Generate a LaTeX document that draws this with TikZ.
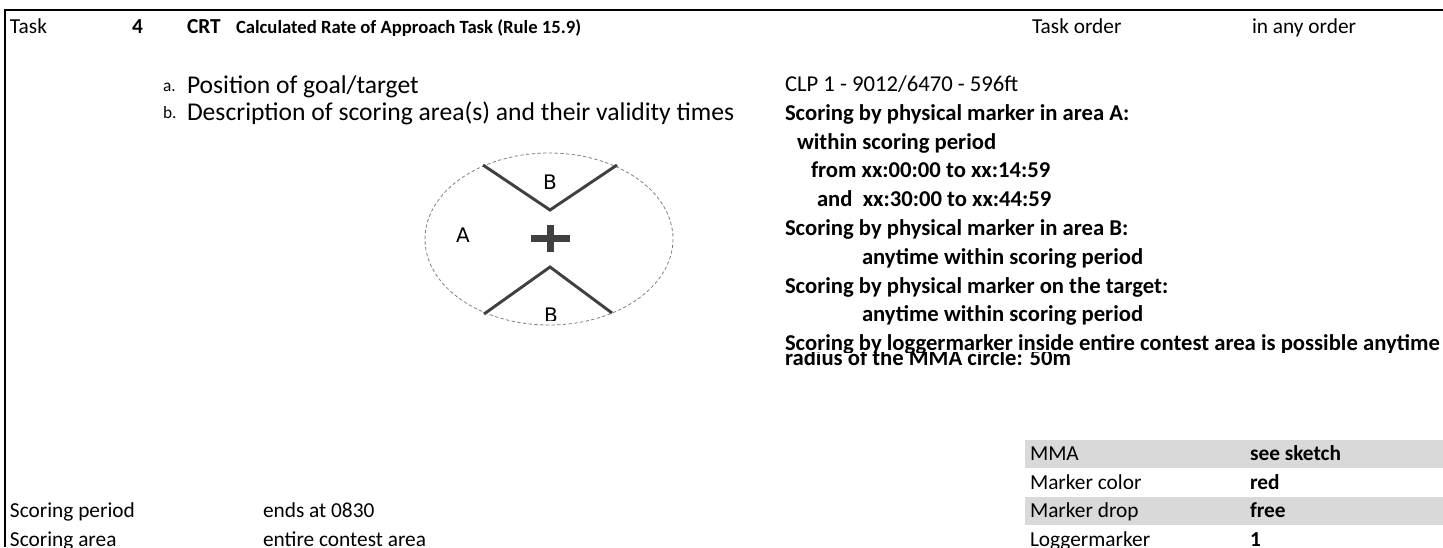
\documentclass[tikz,border=0pt]{standalone}
\usepackage{fontspec}
\setmainfont{Carlito}
\newfontfamily\dvs{DejaVu Sans}
\definecolor{bandgray}{HTML}{D9D9D9}
\definecolor{markgray}{HTML}{404040}
\begin{document}
\begin{tikzpicture}[x=0.75pt,y=-0.75pt,
  txt/.style={anchor=base west, inner sep=0pt, outer sep=0pt},
  hdr/.style={txt, font=\fontsize{16}{19}\selectfont},
  hdrb/.style={txt, font=\fontsize{16}{19}\selectfont\bfseries},
  ttl/.style={txt, font=\fontsize{14}{17}\selectfont\bfseries},
  sublbl/.style={txt, font=\fontsize{13}{15}\selectfont},
  big/.style={txt, font=\fontsize{19.2}{23}\selectfont},
  rb/.style={txt, font=\fontsize{17}{20}\selectfont\bfseries},
  rr/.style={txt, font=\fontsize{17}{20}\selectfont},
  tb/.style={txt, font=\fontsize{16}{19}\selectfont},
  tbb/.style={txt, font=\fontsize{16}{19}\selectfont\bfseries},
  frameline/.style={line width=1.2pt},
  vline/.style={draw=markgray, line width=2.2pt},
  crossbar/.style={fill=markgray, draw=none},
  zone/.style={font=\dvs\fontsize{15}{17}\selectfont, inner sep=0pt},
  band/.style={fill=bandgray, draw=none},
]
\useasboundingbox (0,0) rectangle (1443,547);

% frame
\coordinate (tl) at (5,10);
\coordinate (tr) at (1443,10);
\coordinate (bl) at (5,547);
\draw[frameline] (tr) -- (tl) -- (bl);

% header
\node[hdr]  (task)  at (10,33)   {Task};
\node[hdrb] (tnum)  at (132,33)  {4};
\node[hdrb] (tcode) at (187,33)  {CRT};
\node[ttl]  (tname) at (236,33)  {Calculated Rate of Approach Task (Rule 15.9)};
\node[hdr]  (tord)  at (1032,33) {Task order};
\node[hdr]  (tordv) at (1252,33) {in any order};

% a / b
\node[sublbl] (la) at (163,91) {a.};
\begin{scope}
  \clip (0,0) rectangle (760,97);
  \node[big] (posa) at (187,93) {Position of goal/target};
\end{scope}
\node[sublbl] (lb) at (163,118) {b.};
\node[big] (desb) at (187,120) {Description of scoring area(s) and their validity times};

% sketch
\draw[dashed, gray, line width=0.6pt, dash pattern=on 2.5pt off 1.8pt] (549,239) ellipse [x radius=124, y radius=86];
\coordinate (u1) at (483,165);
\coordinate (u2) at (550,210);
\coordinate (u3) at (617,165);
\coordinate (d1) at (484,314);
\coordinate (d2) at (550,267);
\coordinate (d3) at (612,313);
\draw[vline] (u1) -- (u2) -- (u3);
\draw[vline] (d1) -- (d2) -- (d3);
\fill[crossbar] (531,234.5) rectangle (570,241.5);
\fill[crossbar] (546.5,225) rectangle (553.5,252);
\node[zone] (zb1) at (550,182.5) {B};
\node[zone] (za)  at (463,235.5) {A};
\begin{scope}
  \clip (400,290) rectangle (700,320);
  \node[zone] (zb2) at (551,315.5) {B};
\end{scope}

% right description
\node[rr] (r1)  at (785,91.5)  {CLP 1 - 9012/6470 - 596ft};
\node[rb] (r2)  at (785,120.3) {Scoring by physical marker in area A:};
\node[rb] (r3)  at (797,149.1) {within scoring period};
\node[rb] (r4)  at (811,177.9) {from xx:00:00 to xx:14:59};
\node[rb] (r5)  at (817,206.7) {and~ xx:30:00 to xx:44:59};
\node[rb] (r6)  at (785,235.5) {Scoring by physical marker in area B:};
\node[rb] (r7)  at (862,264.3) {anytime within scoring period};
\node[rb] (r8)  at (785,293.1) {Scoring by physical marker on the target:};
\node[rb] (r9)  at (862,321.9) {anytime within scoring period};
\begin{scope}
  \clip (700,330) rectangle (1443,352);
  \node[rb] (r10) at (785,350.5) {Scoring by loggermarker inside entire contest area is possible anytime};
\end{scope}
\begin{scope}
  \clip (700,352) rectangle (1443,400);
  \node[rb] (r11) at (785,365) {radius of the MMA circle: 50m};
\end{scope}

% table bottom right
\fill[band] (1025,440) rectangle (1443,468);
\fill[band] (1025,497) rectangle (1443,525);
\node[tb]  (k1) at (1030,460) {MMA};
\node[tbb] (v1) at (1250,460) {see sketch};
\node[tb]  (k2) at (1030,489) {Marker color};
\node[tbb] (v2) at (1250,489) {red};
\node[tb]  (k3) at (1030,517) {Marker drop};
\node[tbb] (v3) at (1250,517) {free};
\node[tb]  (k4) at (1030,546) {Loggermarker};
\node[tbb] (v4) at (1250,546) {1};

% bottom left
\node[tb] (s1) at (10,517)  {Scoring period};
\node[tb] (s1v) at (263,517) {ends at 0830};
\node[tb] (s2) at (10,546)  {Scoring area};
\node[tb] (s2v) at (263,546) {entire contest area};
\end{tikzpicture}
\end{document}
